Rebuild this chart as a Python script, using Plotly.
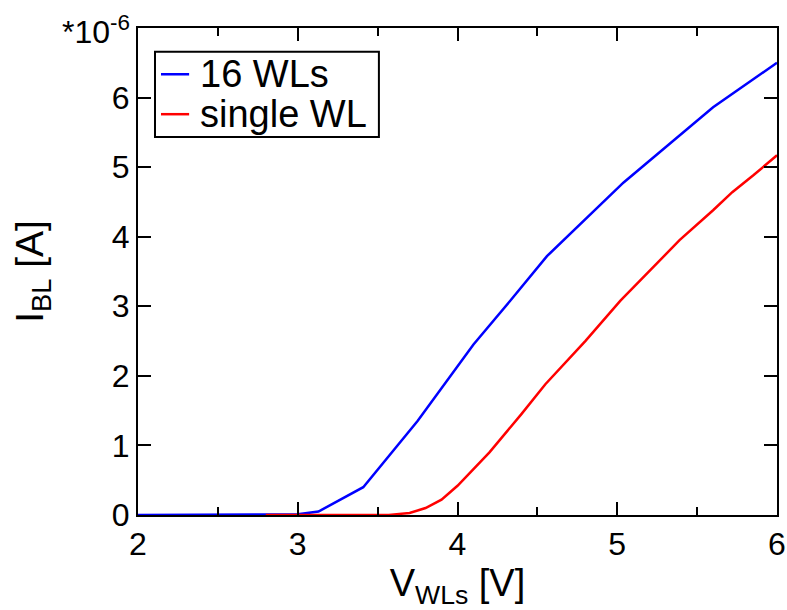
import plotly.graph_objects as go

# Bit-line current versus word-line voltage (current in units of 1e-6 A)
v_16wl = [2.0, 2.5, 2.9, 3.0, 3.13, 3.41, 3.75, 4.1, 4.33, 4.56, 5.04, 5.6, 6.0]
i_16wl = [0.0, 0.0, 0.0, 0.01, 0.05, 0.4, 1.35, 2.45, 3.08, 3.72, 4.78, 5.86, 6.5]

v_single = [2.8, 3.2, 3.57, 3.7, 3.8, 3.9, 4.0, 4.2, 4.4, 4.55, 4.8, 5.02, 5.2, 5.39, 5.6, 5.72, 5.85, 6.0]
i_single = [0.0, 0.0, 0.0, 0.03, 0.1, 0.22, 0.42, 0.9, 1.45, 1.88, 2.5, 3.08, 3.5, 3.95, 4.38, 4.64, 4.88, 5.17]

x_ticks = [2, 3, 4, 5, 6]
y_ticks = [0, 1, 2, 3, 4, 5, 6]

series_names = ["16 WLs", "single WL"]
series_colors = ["#0000ff", "#ff0000"]

FONT = "Liberation Sans, Arial, Helvetica, sans-serif"

fig = go.Figure()
for xs, ys, name, color in zip([v_16wl, v_single], [i_16wl, i_single], series_names, series_colors):
    fig.add_trace(go.Scatter(x=xs, y=ys, mode="lines", name=name,
                             line=dict(color=color, width=2.5), showlegend=False))

axis_common = dict(showline=True, linecolor="black", linewidth=2, mirror="allticks",
                   ticks="inside", tickcolor="black", tickwidth=2, showgrid=False,
                   zeroline=False, automargin=False,
                   tickfont=dict(family=FONT, size=32, color="black"))

fig.update_xaxes(range=[2, 6], tickvals=x_ticks, ticklen=13,
                 minor=dict(dtick=0.5, tick0=2, ticks="inside", ticklen=8,
                            tickwidth=2, tickcolor="black", showgrid=False),
                 title=dict(text="V<sub>WLs</sub> [V]", font=dict(family=FONT, size=38, color="black"),
                            standoff=2),
                 **axis_common)
fig.update_yaxes(range=[0, 7], tickvals=y_ticks, ticklen=13,
                 title=dict(text="I<sub>BL</sub> [A]", font=dict(family=FONT, size=39, color="black"),
                            standoff=56),
                 **axis_common)

fig.add_annotation(text="*10<sup>-6</sup>", xref="paper", yref="paper", x=0, y=1,
                   xanchor="right", yanchor="bottom", xshift=-6, yshift=-24, showarrow=False,
                   font=dict(family=FONT, size=32, color="black"))

# Boxed key in the upper-left corner of the plotting area
fig.add_shape(type="rect", xref="paper", yref="paper", x0=0.0266, x1=0.377, y0=0.776, y1=0.951,
              line=dict(color="black", width=2), fillcolor="white", layer="above")
key_rows = [0.905, 0.823]
for name, color, yk in zip(series_names, series_colors, key_rows):
    fig.add_shape(type="line", xref="paper", yref="paper", x0=0.036, x1=0.080, y0=yk, y1=yk,
                  line=dict(color=color, width=2.5), layer="above")
    fig.add_annotation(text=name, xref="paper", yref="paper", x=0.094, y=yk,
                       xanchor="left", yanchor="middle", showarrow=False,
                       font=dict(family=FONT, size=38, color="black"))

fig.update_layout(
    width=787, height=610,
    margin=dict(l=138, r=10, t=28, b=95),
    plot_bgcolor="white", paper_bgcolor="white",
    showlegend=False,
)

fig.write_html("out.html")
